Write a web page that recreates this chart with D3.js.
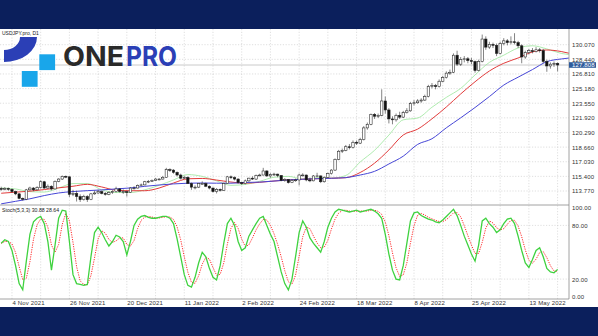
<!DOCTYPE html>
<html><head><meta charset="utf-8">
<script src="https://cdn.jsdelivr.net/npm/d3@7"></script>
<style>html,body{margin:0;padding:0;background:#0b1f5c;overflow:hidden} svg{display:block}</style>
</head><body><svg id="c" width="598" height="336"></svg>
<script>
// ---------------- DATA ----------------
const symbolLabel = "USDJPY.pro, D1";
const stochLabel = "Stoch(5,3,3) 30.88 28.64";
const firstOpen = 114.05;
const closes = [113.95,114.05,113.95,113.70,113.45,112.95,112.85,113.90,114.10,113.90,
114.15,114.80,114.10,114.30,114.00,114.85,115.10,115.40,115.35,113.40,
113.50,113.15,112.80,113.15,112.80,113.45,113.55,113.70,113.50,113.40,
113.60,113.70,114.00,113.70,113.70,113.60,114.10,114.10,114.40,114.45,
114.80,114.85,114.95,115.10,115.10,115.30,116.15,116.10,115.85,115.55,
115.20,115.30,114.60,114.20,114.20,114.60,114.60,114.30,114.10,113.70,
113.95,113.85,114.60,115.35,115.25,115.10,114.70,114.60,114.90,115.20,
115.10,115.50,115.55,116.00,115.45,115.60,115.65,115.50,114.95,115.05,
114.70,114.95,115.00,115.55,115.55,115.00,114.90,115.45,115.45,114.80,
115.30,115.70,116.10,117.30,118.20,118.30,118.70,118.60,119.20,119.10,
119.50,120.80,121.20,122.30,122.10,122.20,123.80,122.80,121.80,121.70,
122.20,122.00,122.50,122.70,123.50,123.60,123.80,123.90,124.30,125.40,
125.50,125.40,126.00,126.40,126.90,127.00,128.90,127.90,128.40,128.50,
128.30,128.20,127.20,128.20,130.70,129.80,130.10,130.00,129.10,130.20,
130.50,130.30,130.40,130.30,129.95,128.70,129.20,129.40,129.30,129.50,
129.40,128.20,127.70,127.90,128.00,127.81];
const highs = [114.25,114.20,114.15,114.05,113.80,113.55,113.05,114.00,114.25,114.20,
114.30,114.95,114.90,114.50,114.40,114.95,115.20,115.50,115.50,115.40,
113.90,113.80,113.40,113.35,113.30,113.55,113.80,113.90,113.80,113.65,
113.75,113.85,114.25,114.10,113.95,113.80,114.20,114.30,114.50,114.60,
114.90,115.00,115.05,115.20,115.20,115.45,116.35,116.30,116.20,115.95,
115.70,115.45,115.40,114.70,114.40,114.65,114.85,114.70,114.40,114.15,
114.10,114.05,114.70,115.45,115.50,115.40,115.20,114.80,115.05,115.25,
115.40,115.60,115.70,116.35,116.10,115.75,115.80,115.70,115.55,115.20,
115.10,115.10,115.15,115.70,115.75,115.60,115.25,115.55,115.80,115.50,
115.40,115.80,116.20,117.40,118.35,118.50,118.90,119.00,119.40,119.40,
119.70,121.00,121.40,122.40,122.45,122.40,125.10,124.30,123.00,122.10,
122.40,122.60,122.70,123.00,123.70,123.90,124.00,124.10,124.50,125.60,
125.80,125.70,126.20,126.60,127.10,127.30,129.10,129.40,128.70,128.80,
128.70,128.60,128.30,128.40,131.20,131.00,130.40,130.30,130.20,130.40,
130.80,130.70,131.00,131.35,130.50,130.10,129.40,129.60,129.70,129.80,
129.70,129.60,128.40,128.10,128.20,128.10];
const lows = [113.80,113.85,113.80,113.55,113.30,112.85,112.70,112.75,113.80,113.75,
113.85,114.05,114.00,114.00,113.85,113.95,114.75,115.00,115.20,113.10,
113.20,112.60,112.55,112.70,112.55,112.75,113.35,113.45,113.40,113.25,
113.30,113.45,113.60,113.60,113.45,113.15,113.55,113.95,114.05,114.30,
114.40,114.65,114.80,114.90,114.95,115.05,115.25,115.90,115.70,115.40,
115.05,115.10,114.55,113.90,113.95,114.10,114.50,114.20,113.95,113.60,
113.50,113.70,113.80,114.55,115.10,114.95,114.60,114.45,114.50,114.80,
115.00,115.00,115.40,115.50,115.35,115.25,115.45,115.30,114.85,114.80,
114.60,114.65,114.80,114.40,115.40,114.85,114.75,114.85,115.30,114.65,
114.70,115.25,115.60,116.00,117.20,118.00,118.20,118.40,118.50,118.90,
119.00,119.40,120.60,121.10,121.80,121.90,122.10,122.40,121.30,121.20,
121.50,121.80,121.90,122.40,122.60,123.30,123.50,123.60,123.80,124.20,
125.20,125.10,125.30,125.90,126.30,126.70,126.90,127.70,127.70,128.10,
128.00,127.90,126.95,127.10,128.10,129.50,129.60,129.70,128.80,129.00,
130.00,130.00,130.10,130.10,129.70,128.00,128.50,129.00,129.10,129.20,
129.20,128.00,127.05,127.40,127.60,127.10];
// Stochastic %K (main line), one value per bar
const stochK = [60,64,62,52,35,15,8,40,70,84,
88,90,82,62,30,58,88,97,96,62,
25,15,14,13,14,45,72,78,72,64,
57,62,69,67,62,47,62,80,87,90,
91,89,88,88,89,90,90,88,82,65,
45,25,13,11,22,38,50,45,32,22,
19,35,60,82,88,80,62,52,55,68,
75,82,88,90,80,70,62,45,28,15,
8,20,45,72,85,78,66,60,55,50,
62,78,88,95,98,97,96,95,96,97,
95,96,97,98,96,93,88,70,48,30,
20,19,35,60,85,94,95,91,89,87,
86,84,83,86,90,94,98,91,80,68,
58,48,40,58,85,88,82,78,72,75,
82,87,88,82,68,52,38,33,42,52,
55,45,32,28,27,30.88];
// Alligator lines, read every LINE_STEP bars (already shifted forward)
const LINE_STEP = 4;
const jaw = [112.34,112.62,112.90,113.26,113.55,113.71,113.81,113.89,114.00,114.11,
114.29,114.44,114.56,114.64,114.66,114.64,114.64,114.72,114.76,114.88,
115.00,115.08,115.14,115.19,115.26,115.55,115.96,116.78,117.65,118.96,
119.59,120.81,121.92,123.07,124.29,125.57,126.45,127.30,128.18,128.48,128.64];
const teeth = [113.52,113.64,113.75,113.93,114.12,114.30,114.51,114.22,113.86,113.80,
113.80,114.10,114.66,115.13,115.17,114.99,114.77,114.64,114.74,114.88,
115.01,115.08,115.14,115.19,115.25,115.83,116.87,118.34,120.01,120.66,
121.81,123.13,124.58,125.94,127.14,128.00,128.59,129.26,129.48,129.31,128.92];
const lips = [114.10,114.00,113.70,113.65,114.10,114.60,114.60,113.90,113.60,113.60,
113.90,114.40,115.00,115.60,115.40,114.90,114.40,114.50,114.85,115.30,
115.40,115.10,115.25,115.20,115.50,117.00,118.30,120.00,121.70,121.90,
123.10,124.20,125.20,126.70,128.10,128.90,129.70,129.95,129.60,129.10,128.90];
const priceTicks = [130.07,128.44,126.81,125.18,123.55,121.92,120.29,118.66,117.03,115.40,113.77];
const stochTicks = [100,80,20,0];
const stochLevels = [80,20];
const dateTickLabels = ["4 Nov 2021","26 Nov 2021","20 Dec 2021","11 Jan 2022","2 Feb 2022","24 Feb 2022","18 Mar 2022","8 Apr 2022","25 Apr 2022","13 May 2022"];
const dateTickBars = [3,19,35,51,67,83,99,115,131,147];
const GRID_EVERY = 8;
const lastPrice = 127.808;

// ---------------- DRAW ----------------
const W=598, H=336;
const svg = d3.select("#c");
svg.append("rect").attr("width",W).attr("height",H).attr("fill","#0b1f5c");
svg.append("rect").attr("x",0).attr("y",29).attr("width",W).attr("height",278).attr("fill","#ffffff");

const plotR = 569, mainT = 29, mainB = 205, stB = 299;
const N = closes.length;
const x = d3.scaleLinear().domain([0, N-1]).range([1.2, 557.6]);
const yP = d3.scaleLinear().domain([113.77,130.07]).range([191.0,44.7]);
const yS = d3.scaleLinear().domain([0,100]).range([297,207.5]);
const FONT = "'Liberation Sans', Arial, sans-serif";

const defs = svg.append("defs");
defs.append("clipPath").attr("id","clipMain").append("rect").attr("x",0).attr("y",mainT).attr("width",plotR).attr("height",mainB-mainT);
defs.append("clipPath").attr("id","clipSt").append("rect").attr("x",0).attr("y",mainB).attr("width",plotR).attr("height",stB-mainB);

// grid
const grid = svg.append("g").attr("stroke","#c9c9c9").attr("stroke-width",0.6).attr("stroke-dasharray","1.2,1.6");
const vBars = d3.range(dateTickBars[0], N, GRID_EVERY);
grid.selectAll(".vg").data(vBars).join("line").attr("x1",d=>x(d)).attr("x2",d=>x(d)).attr("y1",mainT).attr("y2",stB);
grid.selectAll(".hg").data(priceTicks).join("line").attr("x1",0).attr("x2",plotR).attr("y1",d=>yP(d)).attr("y2",d=>yP(d));
grid.selectAll(".sg").data(stochLevels).join("line").attr("x1",0).attr("x2",plotR).attr("y1",d=>yS(d)).attr("y2",d=>yS(d));

// current price line
svg.append("line").attr("x1",0).attr("x2",plotR).attr("y1",yP(lastPrice)).attr("y2",yP(lastPrice)).attr("stroke","#bdbdbd").attr("stroke-width",0.8);

// alligator
const main = svg.append("g").attr("clip-path","url(#clipMain)");
const lineGen = d3.line().x(d=>x(d.i)).y(d=>yP(d.v)).curve(d3.curveMonotoneX);
const toPts = arr => arr.map((v,k)=>({i:k*LINE_STEP, v}));
main.append("path").attr("d",lineGen(toPts(lips))).attr("fill","none").attr("stroke","#9be69b").attr("stroke-width",0.8);
main.append("path").attr("d",lineGen(toPts(teeth))).attr("fill","none").attr("stroke","#e23c3c").attr("stroke-width",1);
main.append("path").attr("d",lineGen(toPts(jaw))).attr("fill","none").attr("stroke","#4646d6").attr("stroke-width",1);

// candles
const bars = closes.map((c,i)=>({i, o: i===0?firstOpen:closes[i-1], h:highs[i], l:lows[i], c}));
const cg = main.append("g");
cg.selectAll(".wick").data(bars).join("line")
  .attr("x1",d=>x(d.i)).attr("x2",d=>x(d.i)).attr("y1",d=>yP(d.h)).attr("y2",d=>yP(d.l))
  .attr("stroke","#333").attr("stroke-width",0.6);
const bw = 2.4;
cg.selectAll(".body").data(bars).join("rect")
  .attr("x",d=>x(d.i)-bw/2).attr("width",bw)
  .attr("y",d=>yP(Math.max(d.o,d.c))).attr("height",d=>Math.max(0.8,Math.abs(yP(d.o)-yP(d.c))))
  .attr("fill",d=>d.c>=d.o?"#ffffff":"#111111").attr("stroke","#222").attr("stroke-width",0.55);

// stochastic
const stochD = stochK.map((v,i)=>d3.mean(stochK.slice(Math.max(0,i-2), i+1)));
const st = svg.append("g").attr("clip-path","url(#clipSt)");
const sLine = d3.line().x((d,i)=>x(i)).y(d=>yS(d));
st.append("path").attr("d",sLine(stochD)).attr("fill","none").attr("stroke","#ff2a2a").attr("stroke-width",1).attr("stroke-dasharray","1.2,1.2");
st.append("path").attr("d",sLine(stochK)).attr("fill","none").attr("stroke","#3fd23f").attr("stroke-width",1.3);

// frame lines
svg.append("line").attr("x1",0).attr("x2",plotR).attr("y1",mainB).attr("y2",mainB).attr("stroke","#8a8a8a").attr("stroke-width",0.8);
svg.append("line").attr("x1",0).attr("x2",plotR).attr("y1",stB).attr("y2",stB).attr("stroke","#8a8a8a").attr("stroke-width",0.8);
svg.append("line").attr("x1",plotR).attr("x2",plotR).attr("y1",mainT).attr("y2",stB).attr("stroke","#8a8a8a").attr("stroke-width",0.8);

// axes
const axP = svg.append("g").attr("transform",`translate(${plotR},0)`)
  .call(d3.axisRight(yP).tickValues(priceTicks).tickFormat(d3.format(".3f")).tickSize(0).tickPadding(3));
const axS = svg.append("g").attr("transform",`translate(${plotR},0)`)
  .call(d3.axisRight(yS).tickValues(stochTicks).tickFormat(d3.format(".2f")).tickSize(0).tickPadding(3));
const axX = svg.append("g").attr("transform",`translate(0,${stB})`)
  .call(d3.axisBottom(x).tickValues(dateTickBars).tickFormat((d,k)=>dateTickLabels[k]).tickSize(0).tickPadding(1.5));
[axP,axS,axX].forEach(a=>{
  a.select(".domain").remove();
  a.selectAll("text").attr("font-family",FONT).attr("font-size",6).attr("fill","#333").attr("letter-spacing",0.15);
});
axX.selectAll("text").attr("text-anchor","start");

// last price box
const lp = yP(lastPrice);
svg.append("rect").attr("x",plotR).attr("y",lp-2.8).attr("width",27).attr("height",5.6).attr("fill","#2f5c9c");
svg.append("text").attr("x",plotR+3).attr("y",lp).attr("dy","0.34em").text(d3.format(".3f")(lastPrice))
  .attr("font-family",FONT).attr("font-size",6).attr("fill","#fff").attr("letter-spacing",0.15);

// labels
svg.append("text").attr("x",2).attr("y",34.5).text(symbolLabel).attr("font-family",FONT).attr("font-size",5).attr("fill","#222");
svg.append("text").attr("x",2).attr("y",211.5).text(stochLabel).attr("font-family",FONT).attr("font-size",5.2).attr("fill","#222");

// logo
const logo = svg.append("g");
logo.append("path").attr("d","M20,37 L37,37 A33 25 0 0 1 4,62 L4,50 A16 13 0 0 0 20,37 Z").attr("fill","#2b3fb6");
logo.append("rect").attr("x",39.3).attr("y",54.3).attr("width",15.8).attr("height",15.8).attr("fill","#19a6ea");
logo.append("rect").attr("x",21.8).attr("y",71).attr("width",15.8).attr("height",15.8).attr("fill","#19a6ea");
logo.append("text").attr("x",63).attr("y",66).text("ONE").attr("font-family","Inter, 'Open Sans', sans-serif").attr("font-weight",700)
  .attr("font-size",27.5).attr("fill","#2a2a2a").attr("textLength",61).attr("lengthAdjust","spacingAndGlyphs");
logo.append("text").attr("x",126).attr("y",66).text("PRO").attr("font-family","Inter, 'Open Sans', sans-serif").attr("font-weight",700)
  .attr("font-size",27.5).attr("fill","#2b3fb6").attr("textLength",51).attr("lengthAdjust","spacingAndGlyphs");
</script></body></html>
